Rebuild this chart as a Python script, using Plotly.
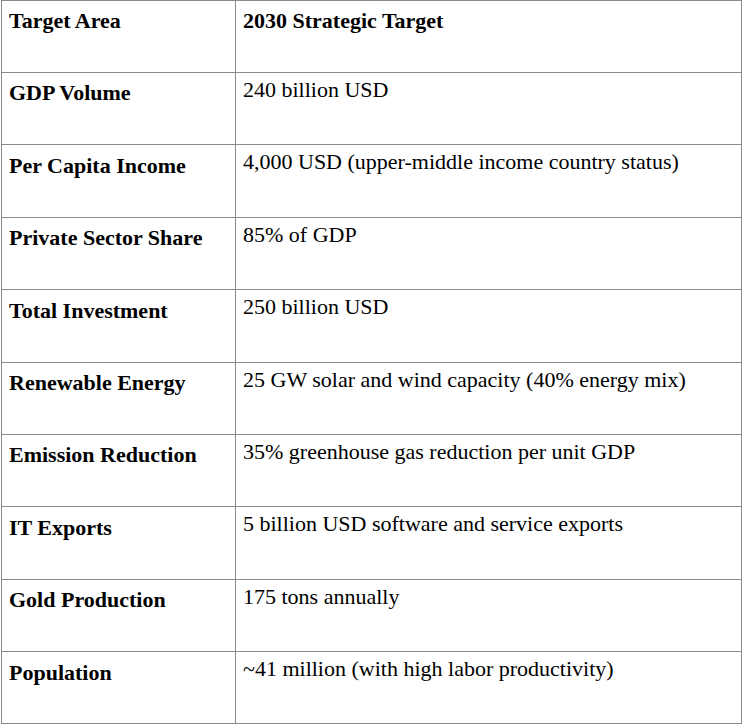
import plotly.graph_objects as go

header = ["Target Area", "2030 Strategic Target"]
areas = [
    "GDP Volume",
    "Per Capita Income",
    "Private Sector Share",
    "Total Investment",
    "Renewable Energy",
    "Emission Reduction",
    "IT Exports",
    "Gold Production",
    "Population",
]
targets = [
    "240 billion USD",
    "4,000 USD (upper-middle income country status)",
    "85% of GDP",
    "250 billion USD",
    "25 GW solar and wind capacity (40% energy mix)",
    "35% greenhouse gas reduction per unit GDP",
    "5 billion USD software and service exports",
    "175 tons annually",
    "~41 million (with high labor productivity)",
]

font = "Liberation Serif, Times New Roman, serif"
line = dict(color="#8a8a8a", width=1)

fig = go.Figure(go.Table(
    columnwidth=[234, 506],
    header=dict(
        values=[f"<b>{h}</b>" for h in header],
        align="left",
        height=72.4,
        fill_color="white",
        line=line,
        font=dict(family=font, size=22, color="black"),
    ),
    cells=dict(
        values=[[f"<b>{a}</b>" for a in areas], targets],
        align="left",
        height=72.4,
        fill_color="white",
        line=line,
        font=dict(family=font, size=22, color="black"),
    ),
    domain=dict(x=[0, 1], y=[0, 1]),
))

fig.update_layout(
    width=742,
    height=728,
    margin=dict(l=1, r=1, t=0, b=0),
    paper_bgcolor="white",
)

# page has the default 8px body margin, drop it so the table sits at the corner
fig.write_html(
    "out.html",
    config={"displayModeBar": False},
    post_script="document.body.style.margin='0';",
)
